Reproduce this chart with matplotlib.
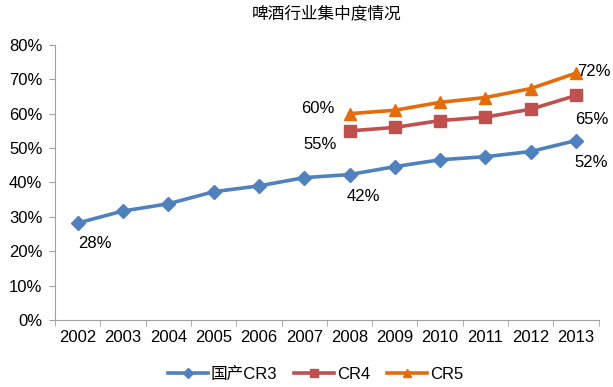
import matplotlib
matplotlib.use("Agg")
import matplotlib.pyplot as plt
from matplotlib.ticker import FuncFormatter

years = ['2002', '2003', '2004', '2005', '2006', '2007',
         '2008', '2009', '2010', '2011', '2012', '2013']
cr3 = [28.2, 31.7, 33.8, 37.3, 39.0, 41.4, 42.3, 44.6, 46.6, 47.5, 49.0, 52.2]
cr4_years = ['2008', '2009', '2010', '2011', '2012', '2013']
cr4 = [55.0, 56.0, 58.0, 59.0, 61.3, 65.3]
cr5 = [60.0, 61.0, 63.3, 64.7, 67.3, 71.8]

plt.rcParams['font.family'] = ['Liberation Sans', 'Noto Sans CJK SC', 'DejaVu Sans']

fig = plt.figure(figsize=(6.13, 3.87), dpi=100)
ax = fig.add_axes([0.0897, 0.173, 0.887, 0.711])

x = list(range(len(years)))
x45 = [years.index(y) for y in cr4_years]

ax.plot(x, cr3, color='#4F81BD', lw=2.6, marker='D', ms=7, label='国产CR3')
ax.plot(x45, cr4, color='#C0504D', lw=2.6, marker='s', ms=8, label='CR4')
ax.plot(x45, cr5, color='#E46C0A', lw=2.6, marker='^', ms=9, label='CR5')

ax.set_xlim(-0.5, len(years) - 0.5)
ax.set_ylim(0, 80)
ax.set_yticks(range(0, 81, 10))
ax.yaxis.set_major_formatter(FuncFormatter(lambda v, p: '%d%%' % v))
ax.set_xticks(x)
ax.set_xticklabels(years)
ax.set_xticks([i - 0.5 for i in range(len(years) + 1)], minor=True)
ax.tick_params(axis='x', which='major', length=0, labelsize=12, pad=7)
ax.tick_params(axis='x', which='minor', length=4, color='#A0A0A0', direction='out')
ax.tick_params(axis='y', length=4, color='#A0A0A0', labelsize=12, pad=5)

for s in ['top', 'right']:
    ax.spines[s].set_visible(False)
for s in ['left', 'bottom']:
    ax.spines[s].set_color('#A0A0A0')

ax.set_title('啤酒行业集中度情况', fontsize=12, pad=19,
             family=['Noto Sans CJK SC', 'DejaVu Sans'])

kw = dict(fontsize=12, textcoords='offset points')
ax.annotate('28%', (0, cr3[0]), xytext=(0, -15), ha='left', va='center', **kw)
ax.annotate('42%', (6, cr3[6]), xytext=(-2, -16), ha='left', va='center', **kw)
ax.annotate('52%', (11, cr3[11]), xytext=(-1, -16), ha='left', va='center', **kw)
ax.annotate('55%', (6, cr4[0]), xytext=(-33, -10), ha='left', va='center', **kw)
ax.annotate('65%', (11, cr4[-1]), xytext=(-1, -17), ha='left', va='center', **kw)
ax.annotate('60%', (6, cr5[0]), xytext=(-35, 4), ha='left', va='center', **kw)
ax.annotate('72%', (11, cr5[-1]), xytext=(1, 1), ha='left', va='center', **kw)

fig.legend(loc='lower center', bbox_to_anchor=(0.515, -0.025), ncol=3, frameon=False,
           fontsize=12, handlelength=2.4, columnspacing=1.0, handletextpad=0.2,
           markerscale=0.7)

fig.savefig('out.png', dpi=100)
